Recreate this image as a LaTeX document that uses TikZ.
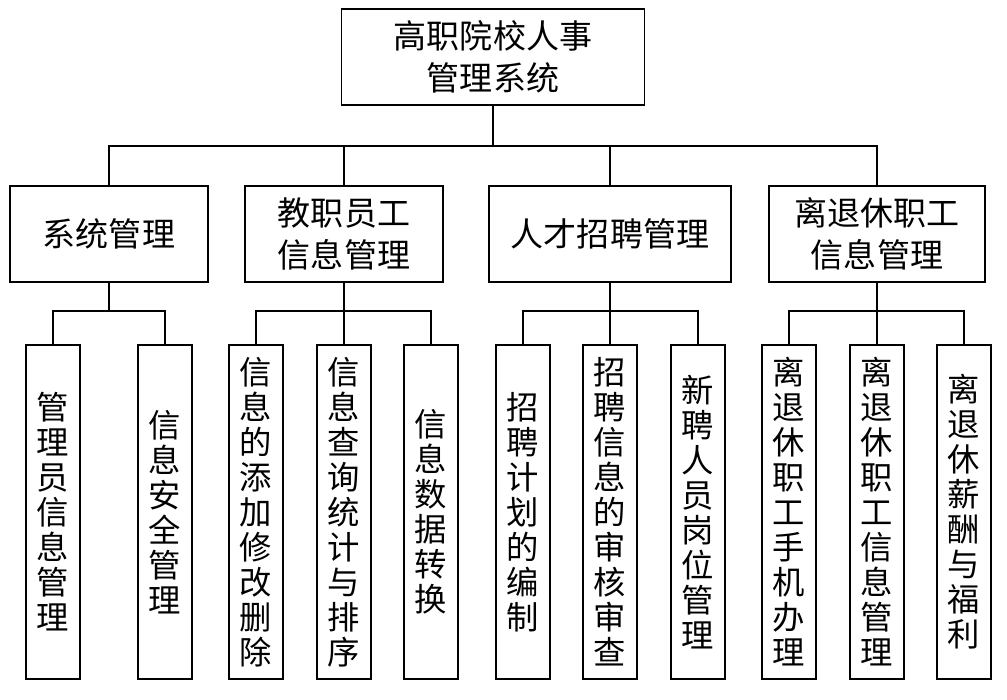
\documentclass[tikz,border=0pt]{standalone}
\usepackage{fontspec}
\setmainfont{Noto Sans CJK SC}
\usetikzlibrary{positioning}
\tikzset{
  box/.style={draw, line width=1.1pt, inner sep=0pt, align=center,
              font=\fontsize{23.5}{30}\selectfont},
  root/.style={box, minimum width=75.75mm, minimum height=24mm},
  mid/.style={box, minimum height=24mm},
  leaf/.style={box, minimum width=13.5mm, minimum height=83.5mm,
               font=\fontsize{23}{24.9}\selectfont},
  l/.style={draw, line width=1.1pt},
}
\begin{document}
\begin{tikzpicture}[x=0.25mm, y=-0.25mm]
  \useasboundingbox (0,0) rectangle (1007,700);
  % top
  \node[root] (root) at (493,57) {高职院校人事\\管理系统};
  % second row
  \node[mid, minimum width=49.5mm] (sys) at (109,234) {系统管理};
  \node[mid, minimum width=49.5mm] (staff) at (344,234) {教职员工\\信息管理};
  \node[mid, minimum width=60.5mm] (hire) at (610,234) {人才招聘管理};
  \node[mid, minimum width=54mm] (retire) at (877,234) {离退休职工\\信息管理};
  % leaves
  \node[leaf] (s1) at (53,512) {管\\理\\员\\信\\息\\管\\理};
  \node[leaf] (s2) at (165,512) {信\\息\\安\\全\\管\\理};
  \node[leaf] (t1) at (256,512) {信\\息\\的\\添\\加\\修\\改\\删\\除};
  \node[leaf] (t2) at (344,512) {信\\息\\查\\询\\统\\计\\与\\排\\序};
  \node[leaf] (t3) at (431,512) {信\\息\\数\\据\\转\\换};
  \node[leaf] (h1) at (523,512) {招\\聘\\计\\划\\的\\编\\制};
  \node[leaf] (h2) at (610,512) {招\\聘\\信\\息\\的\\审\\核\\审\\查};
  \node[leaf] (h3) at (698,512) {新\\聘\\人\\员\\岗\\位\\管\\理};
  \node[leaf] (r1) at (789,512) {离\\退\\休\\职\\工\\手\\机\\办\\理};
  \node[leaf] (r2) at (877,512) {离\\退\\休\\职\\工\\信\\息\\管\\理};
  \node[leaf] (r3) at (964,512) {离\\退\\休\\薪\\酬\\与\\福\\利};
  % connectors
  \coordinate (b0) at (493,146);
  \foreach \c in {sys,staff,hire,retire}
    \draw[l] (root.south) -- (b0) -| (\c.north);
  \coordinate (b1) at (109,311);
  \foreach \c in {s1,s2}
    \draw[l] (sys.south) -- (b1) -| (\c.north);
  \coordinate (b2) at (344,311);
  \foreach \c in {t1,t2,t3}
    \draw[l] (staff.south) -- (b2) -| (\c.north);
  \coordinate (b3) at (610,311);
  \foreach \c in {h1,h2,h3}
    \draw[l] (hire.south) -- (b3) -| (\c.north);
  \coordinate (b4) at (877,311);
  \foreach \c in {r1,r2,r3}
    \draw[l] (retire.south) -- (b4) -| (\c.north);
\end{tikzpicture}
\end{document}
